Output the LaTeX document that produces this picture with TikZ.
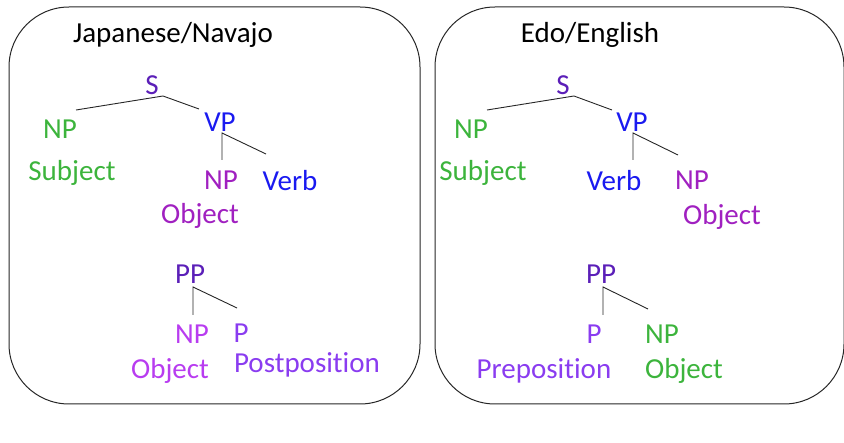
\documentclass[tikz,border=0pt]{standalone}
\usepackage{fontspec}
\setmainfont{Carlito}[Ligatures=NoCommon]
\definecolor{cS}{HTML}{5B1FB8}
\definecolor{cG}{HTML}{3CB43C}
\definecolor{cB}{HTML}{1A1AF0}
\definecolor{cM}{HTML}{A020C0}
\definecolor{cL}{HTML}{B83CF0}
\definecolor{cV}{HTML}{8A3CF0}
\begin{document}
\begin{tikzpicture}[x=1pt,y=-1pt,
  lbl/.style={inner sep=0pt,yshift=-2.5pt,font=\fontsize{29}{31}\selectfont},
  title/.style={lbl,text=black},
  panel/.style={draw=black!85,line width=1pt,rounded corners=60pt},
  br/.style={draw=black!85,line width=0.9pt}]
\useasboundingbox (0,0) rectangle (844,443);
% panels
\draw[panel] (9,7) rectangle (420,404);
\draw[panel] (435,7) rectangle (844,404);
% ---------- left ----------
\node[title] (t1) at (173,32) {Japanese/Navajo};
\node[lbl,text=cS] (s1) at (152,83) {S};
\node[lbl,text=cG] (np1) at (60,127) {NP};
\node[lbl,text=cB] (vp1) at (220,120) {VP};
\node[lbl,text=cG] (subj1) at (72,170) {Subject};
\node[lbl,text=cM] (npo1) at (221,178) {NP};
\node[lbl,text=cB] (verb1) at (290,178) {Verb};
\node[lbl,text=cM] (obj1) at (200,213) {Object};
\node[lbl,text=cS] (pp1) at (190,272) {PP};
\node[lbl,text=cL] (ppnp1) at (192,332) {NP};
\node[lbl,text=cV] (pp1p) at (241,331) {P};
\node[lbl,text=cL] (ppobj1) at (170,368) {Object};
\node[lbl,text=cV] (post1) at (307,362) {Postposition};
\coordinate (s1j) at (163,96);
\coordinate (vp1j) at (222,133);
\coordinate (pp1j) at (193,287);
\draw[br] (76,110) -- (s1j) -- (199,109);
\draw[br] (222,160) -- (vp1j) -- (266,154);
\draw[br] (193,315) -- (pp1j) -- (237,308);
% ---------- right ----------
\node[title] (t2) at (590,32) {Edo/English};
\node[lbl,text=cS] (s2) at (563,83) {S};
\node[lbl,text=cG] (np2) at (471,127) {NP};
\node[lbl,text=cB] (vp2) at (632,120) {VP};
\node[lbl,text=cG] (subj2) at (483,170) {Subject};
\node[lbl,text=cB] (verb2) at (614,178) {Verb};
\node[lbl,text=cM] (npo2) at (692,178) {NP};
\node[lbl,text=cM] (obj2) at (722,214) {Object};
\node[lbl,text=cS] (pp2) at (601,272) {PP};
\node[lbl,text=cV] (pp2p) at (594,332) {P};
\node[lbl,text=cG] (ppnp2) at (662,332) {NP};
\node[lbl,text=cV] (prep2) at (544,368) {Preposition};
\node[lbl,text=cG] (ppobj2) at (684,368) {Object};
\coordinate (s2j) at (574,96);
\coordinate (vp2j) at (633,133);
\coordinate (pp2j) at (603,287);
\draw[br] (487,110) -- (s2j) -- (612,110);
\draw[br] (633,160) -- (vp2j) -- (678,155);
\draw[br] (603,315) -- (pp2j) -- (648,309);
\end{tikzpicture}
\end{document}
